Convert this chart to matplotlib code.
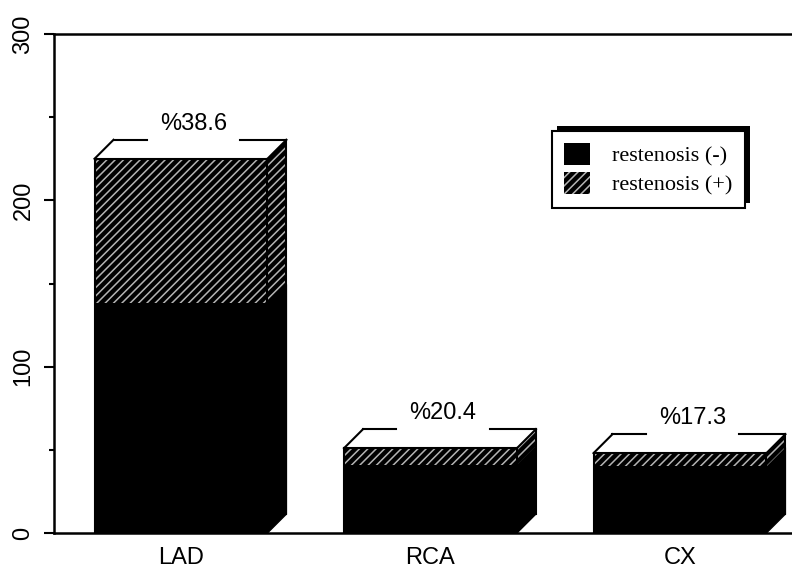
import matplotlib
matplotlib.use("Agg")
import matplotlib.pyplot as plt
from matplotlib.patches import Polygon, Rectangle, Patch
from matplotlib.ticker import MultipleLocator
from matplotlib.transforms import IdentityTransform

categories = ["LAD", "RCA", "CX"]
restenosis_neg = [138, 41, 40]
restenosis_pos = [87, 10, 8]
pct_labels = ["%38.6", "%20.4", "%17.3"]
y_ticks = [0, 100, 200, 300]

plt.rcParams["font.family"] = ["Liberation Sans", "DejaVu Sans"]
plt.rcParams["hatch.color"] = "#b4b4b4"
plt.rcParams["hatch.linewidth"] = 1.1

fig = plt.figure(figsize=(7.92, 5.70), dpi=100)
ax = fig.add_axes([54 / 792, 37 / 570, 738 / 792, 499 / 570])
ax.set_xlim(-0.509, 2.449)
ax.set_ylim(0, 300)

w = 0.693      # bar width
dx = 0.076     # depth (x, data units)
dy = 11.4      # depth (y, data units)
gap = 0.375    # gap in back edge for the label
lw = 1.5

for i, (lo, hi, pct) in enumerate(zip(restenosis_neg, restenosis_pos, pct_labels)):
    x0 = i - w / 2
    x1 = i + w / 2
    top = lo + hi
    # front face
    ax.add_patch(Rectangle((x0, 0), w, lo, facecolor="black", edgecolor="black", lw=1))
    ax.add_patch(Rectangle((x0, lo), w, hi, facecolor="black", hatch="////", lw=0))
    # side face
    ax.add_patch(Polygon([(x1, 0), (x1 + dx, dy), (x1 + dx, lo + dy), (x1, lo)],
                         closed=True, facecolor="black", edgecolor="black", lw=1))
    ax.add_patch(Polygon([(x1, lo), (x1 + dx, lo + dy), (x1 + dx, top + dy), (x1, top)],
                         closed=True, facecolor="black", hatch="////", lw=0))
    # top face
    ax.add_patch(Polygon([(x0, top), (x1, top), (x1 + dx, top + dy), (x0 + dx, top + dy)],
                         closed=True, facecolor="white", lw=0))
    # outlines
    k = dict(color="black", lw=lw, solid_capstyle="projecting")
    ax.plot([x0, x0], [0, top], **k)
    ax.plot([x0, x1], [top, top], **k)
    ax.plot([x1, x1], [lo, top], **k)
    ax.plot([x1 + dx, x1 + dx], [dy, top + dy], **k)
    ax.plot([x0, x0 + dx], [top, top + dy], **k)
    ax.plot([x1, x1 + dx], [top, top + dy], **k)
    cx = i + 0.05
    ax.plot([x0 + dx, cx - gap / 2], [top + dy, top + dy], **k)
    ax.plot([cx + gap / 2, x1 + dx], [top + dy, top + dy], **k)
    ax.text(cx, top + dy + 9.6, pct, ha="center", va="center", fontsize=17)

for s in ["left", "top", "bottom"]:
    ax.spines[s].set_linewidth(1.8)
ax.spines["right"].set_visible(False)

ax.set_yticks(y_ticks)
ax.set_yticklabels([str(t) for t in y_ticks], rotation=90, va="center")
ax.yaxis.set_minor_locator(MultipleLocator(50))
ax.tick_params(axis="y", which="major", length=7, width=1.5, direction="out", labelsize=17, pad=7)
ax.tick_params(axis="y", which="minor", length=3.5, width=1.5, direction="out")
ax.set_xticks(range(len(categories)))
ax.set_xticklabels(categories)
ax.tick_params(axis="x", length=0, labelsize=17, pad=10)

handles = [Patch(facecolor="black", label="restenosis (-)"),
           Patch(facecolor="black", hatch="////", label="restenosis (+)")]
leg = ax.legend(handles=handles, loc="upper left", bbox_to_anchor=(0.675, 0.806),
                borderaxespad=0, fancybox=False, edgecolor="black", framealpha=1,
                prop={"family": "Liberation Serif", "size": 16},
                handlelength=1.15, handleheight=1.15, handletextpad=1.0,
                labelspacing=0.25, borderpad=0.55)
leg.get_frame().set_linewidth(1.5)

fig.canvas.draw()
bb = leg.get_frame().get_window_extent()
shadow = Rectangle((bb.x0 + 5, bb.y0 + 5), bb.width, bb.height, transform=IdentityTransform(),
                   facecolor="black", edgecolor="none", zorder=4.9)
ax.add_artist(shadow)

fig.savefig("out.png", dpi=100)
